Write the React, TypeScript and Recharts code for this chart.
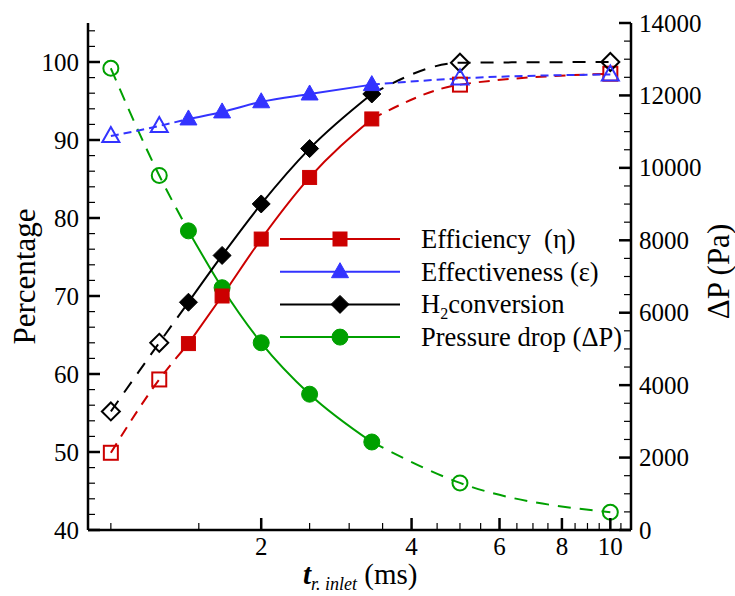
import { ComposedChart, Line, XAxis, YAxis, Legend } from 'recharts';

// residence time at the reactor inlet, t_r,inlet (ms)
const residenceTimes = [1, 1.25, 1.43, 1.67, 2, 2.5, 3.33, 5, 10];
const efficiency = [49.9, 59.3, 63.9, 70.0, 77.3, 85.2, 92.7, 97.1, 98.5];
const effectiveness = [90.5, 91.8, 92.7, 93.6, 94.9, 95.9, 97.1, 97.9, 98.4];
const h2Conversion = [55.2, 64.0, 69.2, 75.2, 81.8, 88.9, 95.9, 99.9, 100.0];
const pressureDrop = [12750, 9790, 8260, 6690, 5170, 3750, 2430, 1300, 490];

// points from solidStart..solidEnd are simulated, the rest extrapolated (dashed, open markers)
const solidStart = 2;
const solidEnd = 6;

const xMajorTicks = [2, 4, 6, 8, 10];
const xMinorTicks = [1, 1.5, 2.5, 3, 3.5, 4.5, 5, 5.5, 6.5, 7, 7.5, 8.5, 9, 9.5, 10.5];
const leftMajorTicks = [40, 50, 60, 70, 80, 90, 100];
const rightMajorTicks = [0, 2000, 4000, 6000, 8000, 10000, 12000, 14000];

const range = (from: number, to: number, step: number) => {
  const out: number[] = [];
  for (let v = from; v <= to + 1e-9; v += step) out.push(v);
  return out;
};

const W = 735;
const H = 596;
const PLOT_LEFT = 88;
const PLOT_RIGHT = 631;
const PLOT_TOP = 23;
const PLOT_BOTTOM = 530;

const SERIF = '"Liberation Serif", "Times New Roman", serif';

type Shape = 'square' | 'triangle' | 'diamond' | 'circle';

type SeriesStyle = { color: string; shape: Shape; dash: string };

const styles: Record<string, SeriesStyle> = {
  efficiency: { color: '#cc0000', shape: 'square', dash: '11 8' },
  effectiveness: { color: '#3333ff', shape: 'triangle', dash: '8 5' },
  h2: { color: '#000000', shape: 'diamond', dash: '13 10' },
  pressure: { color: '#00a000', shape: 'circle', dash: '13 9' },
};

function Marker({ cx, cy, shape, color, open }: { cx: number; cy: number; shape: Shape; color: string; open: boolean }) {
  const fill = open ? 'none' : color;
  const sw = open ? 2 : 1;
  switch (shape) {
    case 'square':
      return <rect x={cx - 7} y={cy - 7} width={14} height={14} fill={fill} stroke={color} strokeWidth={sw} />;
    case 'triangle':
      return (
        <polygon
          points={`${cx},${cy - 9} ${cx - 8.5},${cy + 6} ${cx + 8.5},${cy + 6}`}
          fill={fill}
          stroke={color}
          strokeWidth={sw}
        />
      );
    case 'diamond':
      return (
        <polygon
          points={`${cx},${cy - 9} ${cx + 9},${cy} ${cx},${cy + 9} ${cx - 9},${cy}`}
          fill={fill}
          stroke={color}
          strokeWidth={sw}
        />
      );
    default:
      return <circle cx={cx} cy={cy} r={open ? 7.5 : 8} fill={fill} stroke={color} strokeWidth={sw} />;
  }
}

const segment = (values: number[], from: number, to: number) =>
  residenceTimes.slice(from, to + 1).map((t, k) => ({ t, v: values[from + k] }));

const inSolidRange = (t: number) =>
  t >= residenceTimes[solidStart] && t <= residenceTimes[solidEnd];

function seriesLines(name: string, values: number[], axis: string, style: SeriesStyle) {
  const last = residenceTimes.length - 1;
  const openDot = (p: any) => {
    if (p.cy == null || inSolidRange(p.payload.t)) return <g key={`${name}-o-${p.index}`} />;
    return (
      <g key={`${name}-o-${p.index}`}>
        <Marker cx={p.cx} cy={p.cy} shape={style.shape} color={style.color} open />
      </g>
    );
  };
  const filledDot = (p: any) => (
    <g key={`${name}-f-${p.index}`}>
      <Marker cx={p.cx} cy={p.cy} shape={style.shape} color={style.color} open={false} />
    </g>
  );
  const common = {
    dataKey: 'v',
    yAxisId: axis,
    type: 'monotone' as const,
    stroke: style.color,
    strokeWidth: 2,
    isAnimationActive: false,
    activeDot: false,
  };
  return [
    <Line key={`${name}-lo`} {...common} data={segment(values, 0, solidStart)} strokeDasharray={style.dash} dot={openDot} />,
    <Line key={`${name}-hi`} {...common} data={segment(values, solidEnd, last)} strokeDasharray={style.dash} dot={openDot} />,
    <Line key={`${name}-mid`} {...common} data={segment(values, solidStart, solidEnd)} dot={filledDot} />,
  ];
}

const XTick = (props: any) => {
  const { x, y, payload } = props;
  const major = xMajorTicks.includes(payload.value);
  return (
    <g>
      <line x1={x} x2={x} y1={y} y2={y - (major ? 12 : 7)} stroke="#000" strokeWidth={major ? 2.5 : 1.2} />
      {major && (
        <text x={x} y={y + 25} textAnchor="middle" fontSize={25} fontFamily={SERIF} fill="#000">
          {payload.value}
        </text>
      )}
    </g>
  );
};

const LeftTick = (props: any) => {
  const { x, y, payload } = props;
  const major = leftMajorTicks.includes(payload.value);
  return (
    <g>
      <line x1={x} x2={x + (major ? 12 : 7)} y1={y} y2={y} stroke="#000" strokeWidth={major ? 2.5 : 1.2} />
      {major && (
        <text x={x - 9} y={y + 8.5} textAnchor="end" fontSize={25} fontFamily={SERIF} fill="#000">
          {payload.value}
        </text>
      )}
    </g>
  );
};

const RightTick = (props: any) => {
  const { x, y, payload } = props;
  const major = rightMajorTicks.includes(payload.value);
  return (
    <g>
      <line x1={x} x2={x - (major ? 12 : 7)} y1={y} y2={y} stroke="#000" strokeWidth={major ? 2.5 : 1.2} />
      {major && (
        <text x={x + 8} y={y + 8.5} textAnchor="start" fontSize={25} fontFamily={SERIF} fill="#000">
          {payload.value}
        </text>
      )}
    </g>
  );
};

const LeftTitle = () => {
  const cy = (PLOT_TOP + PLOT_BOTTOM) / 2;
  return (
    <text x={35} y={cy} transform={`rotate(-90 35 ${cy})`} textAnchor="middle" fontSize={31} fontFamily={SERIF} fill="#000">
      Percentage
    </text>
  );
};

const RightTitle = () => {
  const cy = (PLOT_TOP + PLOT_BOTTOM) / 2 - 5;
  return (
    <text x={729} y={cy} transform={`rotate(-90 729 ${cy})`} textAnchor="middle" fontSize={31} fontFamily={SERIF} fill="#000">
      ΔP (Pa)
    </text>
  );
};

const BottomTitle = () => (
  <text x={303} y={584} fontSize={29} fontFamily={SERIF} fill="#000" style={{ whiteSpace: 'pre' }}>
    <tspan fontStyle="italic" fontWeight="bold">t</tspan>
    <tspan fontStyle="italic" fontSize={18} dy={6}>r. inlet</tspan>
    <tspan dy={-6}> (ms)</tspan>
  </text>
);

const legendRows = [
  { label: 'Efficiency  (η)', style: styles.efficiency },
  { label: 'Effectiveness (ε)', style: styles.effectiveness },
  { label: 'H2', style: styles.h2 },
  { label: 'Pressure drop (ΔP)', style: styles.pressure },
];

const LegendBox = () => (
  <svg width={360} height={135} style={{ display: 'block' }}>
    {legendRows.map((row, i) => {
      const y = 19 + i * 32.7;
      return (
        <g key={row.label}>
          <line x1={2} x2={122} y1={y} y2={y} stroke={row.style.color} strokeWidth={2} />
          <Marker cx={62} cy={y} shape={row.style.shape} color={row.style.color} open={false} />
          <text x={143} y={y + 9} fontSize={26.5} fontFamily={SERIF} fill="#000" style={{ whiteSpace: 'pre' }}>
            {row.label === 'H2' ? (
              <>
                H<tspan fontSize={16} dy={6}>2</tspan>
                <tspan dy={-6}>conversion</tspan>
              </>
            ) : (
              row.label
            )}
          </text>
        </g>
      );
    })}
  </svg>
);

export default function App() {
  return (
    <div style={{ position: 'absolute', left: 0, top: 0, width: W, height: H, background: '#fff' }}>
      <ComposedChart
        width={W}
        height={H}
        margin={{ top: PLOT_TOP, right: 0, left: 0, bottom: 0 }}
      >
        <XAxis
          dataKey="t"
          type="number"
          scale="log"
          domain={[0.9, 11]}
          allowDataOverflow
          ticks={[...xMajorTicks, ...xMinorTicks].sort((a, b) => a - b)}
          interval={0}
          tick={<XTick />}
          tickLine={false}
          tickSize={0}
          tickMargin={0}
          axisLine={{ stroke: '#000', strokeWidth: 2.5 }}
          height={H - PLOT_BOTTOM}
          label={<BottomTitle />}
        />
        <XAxis
          xAxisId="top"
          dataKey="t"
          type="number"
          scale="log"
          domain={[0.9, 11]}
          allowDataOverflow
          orientation="top"
          height={0}
          tick={false}
          tickLine={false}
          axisLine={{ stroke: '#000', strokeWidth: 2.5 }}
        />
        <YAxis
          yAxisId="left"
          type="number"
          domain={[40, 105]}
          allowDataOverflow
          ticks={range(40, 104, 2)}
          interval={0}
          tick={<LeftTick />}
          tickLine={false}
          tickSize={0}
          tickMargin={0}
          axisLine={{ stroke: '#000', strokeWidth: 2.5 }}
          width={PLOT_LEFT}
          label={<LeftTitle />}
        />
        <YAxis
          yAxisId="right"
          orientation="right"
          type="number"
          domain={[0, 14000]}
          allowDataOverflow
          ticks={range(0, 14000, 500)}
          interval={0}
          tick={<RightTick />}
          tickLine={false}
          tickSize={0}
          tickMargin={0}
          axisLine={{ stroke: '#000', strokeWidth: 2.5 }}
          width={W - PLOT_RIGHT}
          label={<RightTitle />}
        />
        {seriesLines('pressure', pressureDrop, 'right', styles.pressure)}
        {seriesLines('efficiency', efficiency, 'left', styles.efficiency)}
        {seriesLines('h2', h2Conversion, 'left', styles.h2)}
        {seriesLines('effectiveness', effectiveness, 'left', styles.effectiveness)}
        <Legend
          layout="horizontal"
          verticalAlign="middle"
          align="center"
          wrapperStyle={{ left: 278, top: 220, width: 360, height: 135 }}
          content={() => <LegendBox />}
        />
      </ComposedChart>
    </div>
  );
}
